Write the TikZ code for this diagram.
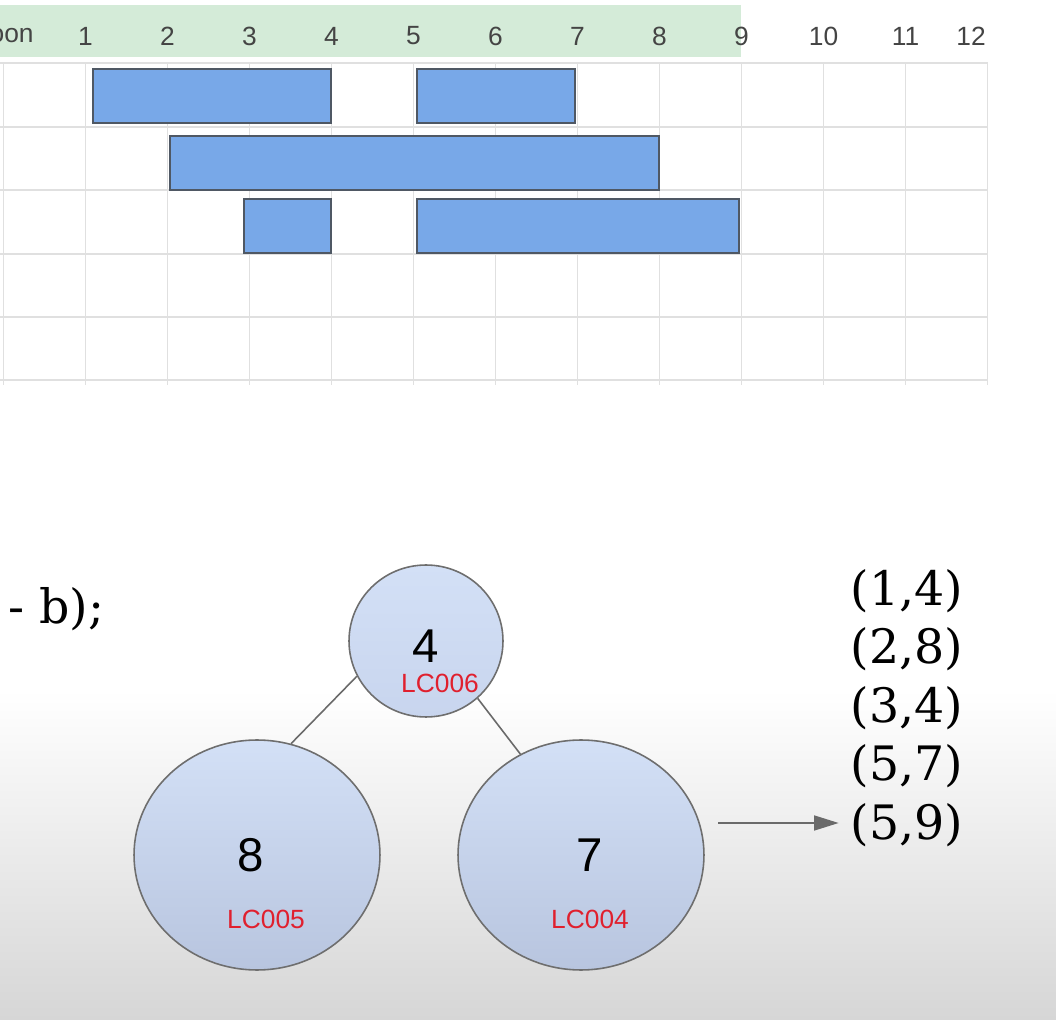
\documentclass[tikz,border=0pt]{standalone}
\usepackage{fontspec}
\setmainfont{DejaVu Serif}
\newfontfamily\sheetfont{Liberation Sans}
\usepackage{tikz}
\usetikzlibrary{shapes.geometric}
\usetikzlibrary{arrows.meta,positioning}
\definecolor{band}{HTML}{D4EBD8}
\definecolor{gridgrey}{HTML}{E0E0E0}
\definecolor{headgrey}{HTML}{444444}
\definecolor{barblue}{HTML}{78A8E8}
\definecolor{barline}{HTML}{4F5864}
\definecolor{nodetop}{HTML}{D3E0F6}
\definecolor{nodemid}{HTML}{C8D5EE}
\definecolor{nodebottom}{HTML}{B8C5DF}
\definecolor{nodeline}{HTML}{6E6E6E}
\definecolor{edgegrey}{HTML}{6A6A6A}
\definecolor{lcred}{HTML}{E0202E}
\definecolor{bggrey}{HTML}{D6D6D6}

\begin{document}
\begin{tikzpicture}[x=0.02cm,y=-0.02cm]
	\tikzstyle{bar}=[fill=barblue,draw=barline,line width=1.1pt]
	\tikzstyle{head}=[font=\sheetfont\fontsize{15}{18}\selectfont,text=headgrey,inner sep=0pt]
	\tikzstyle{vertex}=[ellipse,draw=nodeline,line width=0.9pt,top color=nodetop,bottom color=nodebottom,inner sep=0pt]
	\tikzstyle{num}=[font=\sheetfont\fontsize{27}{30}\selectfont,inner sep=0pt]
	\tikzstyle{lc}=[font=\sheetfont\fontsize{15}{18}\selectfont,text=lcred,inner sep=0pt]
	\tikzstyle{pair}=[font=\fontsize{27}{30}\selectfont,inner sep=1pt]
	\tikzstyle{link}=[draw=edgegrey,line width=0.9pt]

	\useasboundingbox (0,0) rectangle (1056,1020);
	\fill[white] (0,0) rectangle (1056,1020);
	\shade[top color=white,bottom color=bggrey] (0,690) rectangle (1056,1020);

	% sheet
	\fill[band] (0,5) rectangle (741,57);
	\foreach \k in {0,...,12}
		\draw[gridgrey,line width=1.1pt] ({3.5+82*\k},63) -- ({3.5+82*\k},385);
	\foreach \y in {63,127,190,254,317,380}
		\draw[gridgrey,line width=1.1pt] (0,\y) -- (988,\y);

	\node [head,anchor=east] (hroom) at (34,36) {oon};
	\foreach \k in {1,...,11}
		\node [head] (h\k) at ({3.5+82*\k},36) {\k};
	\node [head] (h12) at (971,36) {12};

	\draw[bar] (93,69) rectangle (331,123);
	\draw[bar] (417,69) rectangle (575,123);
	\draw[bar] (170,136) rectangle (659,190);
	\draw[bar] (244,199) rectangle (331,253);
	\draw[bar] (417,199) rectangle (739,253);

	% heap
	\node [pair,anchor=west] (code) at (6,609) {- b);};

	\node [vertex,bottom color=nodemid,minimum width=3.08cm,minimum height=3.04cm] (4) at (426,641) {};
	\node [vertex,minimum width=4.92cm,minimum height=4.6cm] (8) at (257,855) {};
	\node [vertex,minimum width=4.92cm,minimum height=4.6cm] (7) at (581,855) {};

	\node [num] (4t) at (426,646) {4};
	\node [lc] (lc6) at (440,683) {LC006};
	\node [num] (8t) at (251,855) {8};
	\node [lc] (lc5) at (266,919) {LC005};
	\node [num] (7t) at (590,855) {7};
	\node [lc] (lc4) at (590,919) {LC004};

	\path	(4.207)	edge[link] (8.73)
		(4.312)	edge[link] (7.121);

	% pairs
	\node [pair] (14) at (907,591)	{(1,4)};
	\node [pair,node distance=1.17cm] (28) [below of=14]	{(2,8)};
	\node [pair,node distance=1.17cm] (34) [below of=28]	{(3,4)};
	\node [pair,node distance=1.17cm] (57) [below of=34]	{(5,7)};
	\node [pair,node distance=1.17cm] (59) [below of=57]	{(5,9)};

	\coordinate (tail) at (718,823);
	\draw[edgegrey,line width=1.1pt,-{Triangle[length=14pt,width=8.5pt]},shorten >=0.2cm] (tail) -- (tail -| 59.west);
\end{tikzpicture}
\end{document}
